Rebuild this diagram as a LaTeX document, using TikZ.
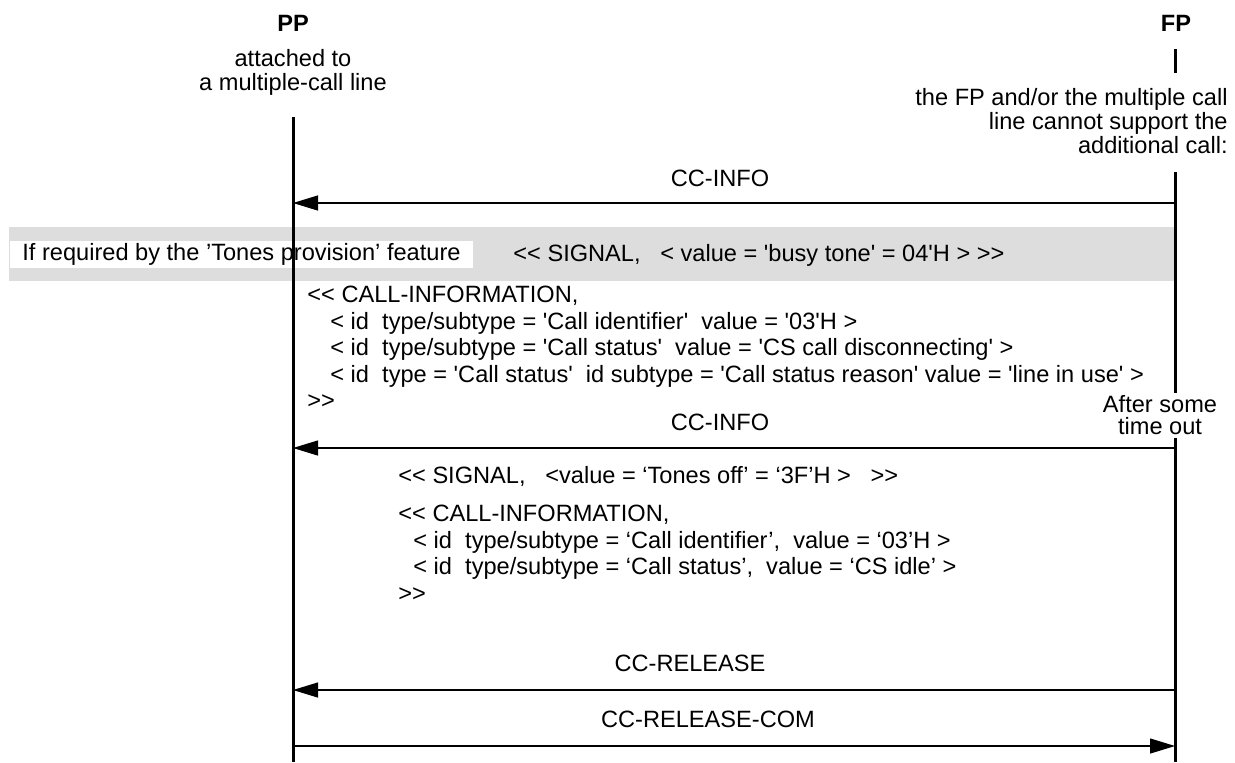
\documentclass[tikz,border=0pt]{standalone}
\usepackage{fontspec}
\setmainfont{Liberation Sans}
\usetikzlibrary{arrows.meta}
\definecolor{band}{RGB}{221,221,221}
\newcommand\sq{\textquotesingle}
\newcommand\dlt{<\kern0pt<}
\newcommand\dgt{>\kern0pt>}
\begin{document}
\begin{tikzpicture}[x=0.5pt,y=-0.5pt,
  every node/.style={font=\fontsize{11.8}{13}\selectfont, inner sep=0pt},
  life/.style={line width=1.5pt},
  msg/.style={line width=0.6pt, -{Triangle[length=12.5pt,width=7.5pt]}},
  txt/.style={anchor=base west},
  rtxt/.style={anchor=base east},
  ctxt/.style={anchor=base},
  title/.style={anchor=base, font=\fontsize{11.8}{13}\selectfont\bfseries}]
\useasboundingbox (0,0) rectangle (1235,762);
% gray band
\fill[band] (9,227) rectangle (1175,281);
\node[fill=white, anchor=west, minimum height=13.5pt, inner xsep=6pt] (tones) at (10,254) {If required by the ’Tones provision’ feature};
\node[txt] (sig1) at (513,261) {\dlt\ SIGNAL,\ \ \ < value = \sq busy tone\sq\ = 04\sq H > \dgt};
% headers
\node[title] (pp) at (293,31) {PP};
\node[ctxt] (pp2) at (293,66) {attached to};
\node[ctxt] (pp3) at (293,90) {a multiple-call line};
\node[title] (fp) at (1176,31) {FP};
\node[rtxt] (fp2) at (1228,105) {the FP and/or the multiple call};
\node[rtxt] (fp3) at (1228,129) {line cannot support the};
\node[rtxt] (fp4) at (1228,153) {additional call:};
% lifelines
\coordinate (ppT) at (293,117);
\coordinate (ppB) at (293,762);
\coordinate (fpA) at (1175,49);
\coordinate (fpB) at (1175,73);
\coordinate (fpC) at (1175,172);
\coordinate (fpD) at (1175,393);
\coordinate (fpE) at (1175,438);
\coordinate (fpF) at (1175,762);
\draw[life] (ppT) -- (ppB);
\draw[life] (fpA) -- (fpB);
\draw[life] (fpC) -- (fpD);
\draw[life] (fpE) -- (fpF);
% messages
\coordinate (f1) at (1175,203); \coordinate (p1) at (293,203);
\coordinate (f2) at (1175,448); \coordinate (p2) at (293,448);
\coordinate (f3) at (1175,690); \coordinate (p3) at (293,690);
\coordinate (f4) at (1175,746); \coordinate (p4) at (293,746);
\draw[msg] (f1) -- (p1);
\draw[msg] (f2) -- (p2);
\draw[msg] (f3) -- (p3);
\draw[msg] (p4) -- (f4);
\node[ctxt] (m1) at (720,186) {CC-INFO};
\node[ctxt] (m2) at (720,430) {CC-INFO};
\node[ctxt] (m3) at (690,671) {CC-RELEASE};
\node[ctxt] (m4) at (708,727) {CC-RELEASE-COM};
% upper call-information block
\node[txt] (a1) at (307,302) {\dlt\ CALL-INFORMATION,};
\node[txt] (a2) at (330,329) {< id\ \ type/subtype = \sq Call identifier\sq\ \ value = \sq 03\sq H >};
\node[txt] (a3) at (330,355) {< id\ \ type/subtype = \sq Call status\sq\ \ value = \sq CS call disconnecting\sq\ >};
\node[txt] (a4) at (330,382) {< id\ \ type = \sq Call status\sq\ \ id subtype = \sq Call status reason\sq\ value = \sq line in use\sq\ >};
\node[txt] (a5) at (307,408) {\dgt};
% timeout
\node[ctxt] (t1) at (1160,412) {After some};
\node[ctxt] (t2) at (1160,434) {time out};
% lower block
\node[txt] (b0) at (398,483) {\dlt\ SIGNAL,\ \ \ <value = ‘Tones off’ = ‘3F’H >\ \ \ \dgt};
\node[txt] (b1) at (398,521) {\dlt\ CALL-INFORMATION,};
\node[txt] (b2) at (413,548) {< id\ \ type/subtype = ‘Call identifier’,\ \ value = ‘03’H >};
\node[txt] (b3) at (413,574) {< id\ \ type/subtype = ‘Call status’,\ \ value = ‘CS idle’ >};
\node[txt] (b4) at (398,601) {\dgt};
\end{tikzpicture}
\end{document}
